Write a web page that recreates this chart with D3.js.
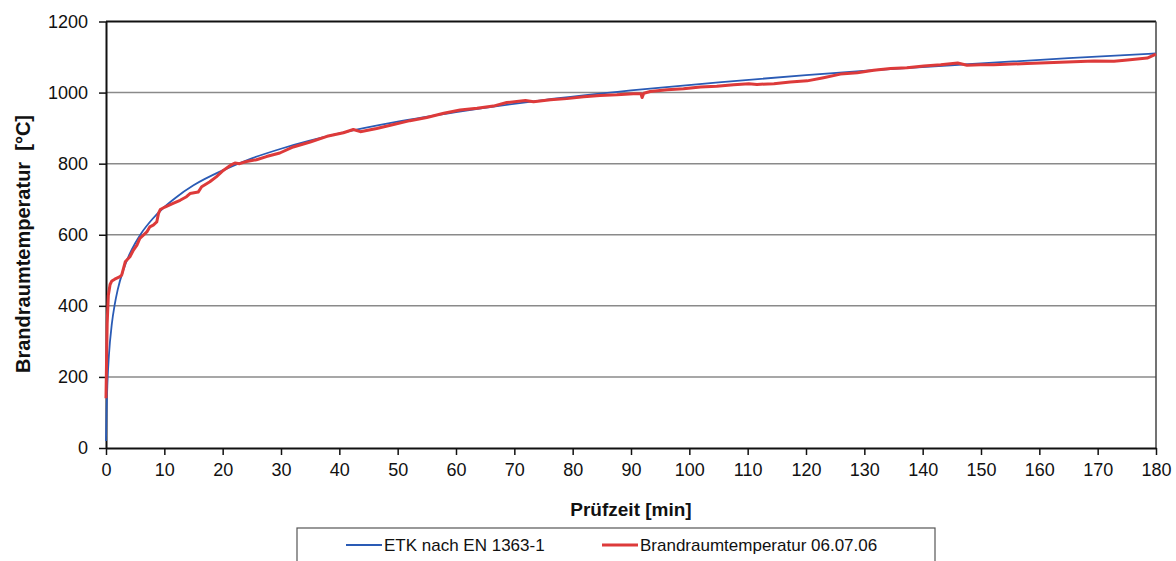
<!DOCTYPE html>
<html>
<head>
<meta charset="utf-8">
<script src="https://cdn.jsdelivr.net/npm/d3@7"></script>
<style>
  body { margin: 0; background: #fff; }
  svg { display: block; font-family: Arial, "Liberation Sans", sans-serif; }
</style>
</head>
<body>
<svg id="chart" width="1176" height="561"></svg>
<script>
// ETK (Einheits-Temperaturzeitkurve)
const etkTime = [0, 0.1, 0.25, 0.5, 1, 1.5, 2, 3, 4, 5, 6, 8, 10, 12, 15, 20, 25, 30, 40, 50, 60, 75, 90, 105, 120, 135, 150, 165, 180];
const etkTemp = [20, 108, 185, 261, 349, 404, 445, 502, 544, 576, 603, 645, 678, 705, 739, 781, 815, 842, 885, 918, 945, 979, 1006, 1029, 1049, 1067, 1082, 1097, 1110];

// measured fire room temperature 06.07.06
const redTime = [0, 0.1, 0.2, 0.4, 0.7, 1.0, 1.5, 2.4, 2.7, 3.3, 4.1, 4.7, 5.3, 5.8, 6.4, 7.0, 7.5, 8.1, 8.7, 9.0, 9.3,
  10.1, 11.5, 12.7, 13.8, 14.4, 15.8, 16.4, 17.8, 18.9, 20.1, 21.3, 22.1, 22.9, 24.1, 25.8, 27.5, 29.8,
  32.1, 35, 37.9, 40.7, 42.4, 43.6, 46.4, 49.3, 52.1, 55, 57.9, 60.7, 63.6, 66.4, 68.7,
  71.9, 73.3, 76.2, 79, 81.9, 84.7, 87.6, 90.4, 91.7, 91.9, 92.2, 93.3, 96.2, 99, 101.9, 104.7, 107.6, 110.2,
  111.6, 114.5, 117.3, 120.2, 123, 125.9, 128.8, 131.6, 134.5, 137.3, 140.2, 143.1, 146, 147.6, 149.9,
  152.2, 157.9, 163.6, 169.4, 172.8, 175.1, 178.5, 180];
const redTemp = [140, 250, 350, 430, 460, 470, 475, 482, 487, 524, 538, 557, 571, 590, 599, 608, 622, 627, 636, 660, 671,
  678, 688, 697, 707, 716, 720, 735, 749, 763, 781, 795, 802, 800, 806, 811, 820, 830,
  847, 861, 877, 887, 896, 890, 899, 910, 921, 930, 942, 951, 956, 962, 972,
  978, 974, 980, 983, 988, 992, 994, 997, 997, 986, 998, 1003, 1008, 1011, 1016, 1018, 1022, 1025,
  1023, 1025, 1030, 1033, 1042, 1052, 1056, 1063, 1068, 1070, 1075, 1078, 1083, 1077, 1078,
  1078, 1082, 1085, 1089, 1088, 1092, 1097, 1108];

const xTicks = d3.range(0, 181, 10);
const yTicks = [0, 200, 400, 600, 800, 1000, 1200];

const svg = d3.select("#chart");
const x = d3.scaleLinear().domain([0, 180]).range([106, 1156]);
const y = d3.scaleLinear().domain([0, 1200]).range([448, 21.5]);

// grid lines
svg.append("g")
  .selectAll("line")
  .data(yTicks.filter(d => d > 0 && d < 1200))
  .enter()
  .append("line")
  .attr("x1", x(0)).attr("x2", x(180))
  .attr("y1", d => y(d)).attr("y2", d => y(d))
  .attr("stroke", "#8a8a8a")
  .attr("stroke-width", 1.5);

// plot frame top / right
svg.append("line")
  .attr("x1", x(0)).attr("x2", x(180)).attr("y1", y(1200)).attr("y2", y(1200))
  .attr("stroke", "#111").attr("stroke-width", 2);
svg.append("line")
  .attr("x1", x(180)).attr("x2", x(180)).attr("y1", y(1200)).attr("y2", y(0))
  .attr("stroke", "#444").attr("stroke-width", 1.5);

// axes
const xAxis = svg.append("g")
  .attr("transform", `translate(0,${y(0)})`)
  .call(d3.axisBottom(x).tickValues(xTicks).tickFormat(d3.format("d")).tickSize(7).tickPadding(8).tickSizeOuter(0));
const yAxis = svg.append("g")
  .attr("transform", `translate(${x(0)},0)`)
  .call(d3.axisLeft(y).tickValues(yTicks).tickFormat(d3.format("d")).tickSize(7).tickPadding(11).tickSizeOuter(0));

[xAxis, yAxis].forEach(ax => {
  ax.select(".domain").attr("stroke", "#111").attr("stroke-width", 2);
  ax.selectAll(".tick line").attr("stroke", "#111").attr("stroke-width", 1.5);
  ax.selectAll(".tick text")
    .attr("fill", "#111")
    .style("font-size", "18px")
    .style("font-family", "Arial, 'Liberation Sans', sans-serif");
});

// curves
const line = d3.line()
  .x(d => x(d[0]))
  .y(d => y(d[1]))
  .curve(d3.curveMonotoneX);

svg.append("path")
  .datum(etkTime.map((t, i) => [t, etkTemp[i]]))
  .attr("d", line)
  .attr("fill", "none")
  .attr("stroke", "#2a5bb5")
  .attr("stroke-width", 1.8);

svg.append("path")
  .datum(redTime.map((t, i) => [t, redTemp[i]]))
  .attr("d", d3.line().x(d => x(d[0])).y(d => y(d[1])).curve(d3.curveLinear))
  .attr("fill", "none")
  .attr("stroke", "#dd3a3a")
  .attr("stroke-width", 3)
  .attr("stroke-linejoin", "round");

// axis titles
svg.append("text")
  .attr("x", 631).attr("y", 516)
  .attr("text-anchor", "middle")
  .style("font-size", "19px").style("font-weight", "bold")
  .attr("fill", "#111")
  .text("Prüfzeit [min]");

svg.append("text")
  .attr("transform", "translate(30,244) rotate(-90)")
  .attr("text-anchor", "middle")
  .style("font-size", "20px").style("font-weight", "bold")
  .attr("fill", "#111")
  .attr("xml:space", "preserve")
  .text("Brandraumtemperatur  [°C]");

// legend
const legend = svg.append("g");
legend.append("rect")
  .attr("x", 297).attr("y", 528).attr("width", 638).attr("height", 45)
  .attr("fill", "#fff").attr("stroke", "#555").attr("stroke-width", 1.2);

const legendItems = [
  { label: "ETK nach EN 1363-1", color: "#2a5bb5", width: 1.8, x0: 346 },
  { label: "Brandraumtemperatur 06.07.06", color: "#dd3a3a", width: 3, x0: 602 }
];
legendItems.forEach(d => {
  legend.append("line")
    .attr("x1", d.x0).attr("x2", d.x0 + 36).attr("y1", 545).attr("y2", 545)
    .attr("stroke", d.color).attr("stroke-width", d.width);
  legend.append("text")
    .attr("x", d.x0 + 38).attr("y", 551)
    .style("font-size", "17px")
    .attr("fill", "#111")
    .text(d.label);
});
</script>
</body>
</html>
